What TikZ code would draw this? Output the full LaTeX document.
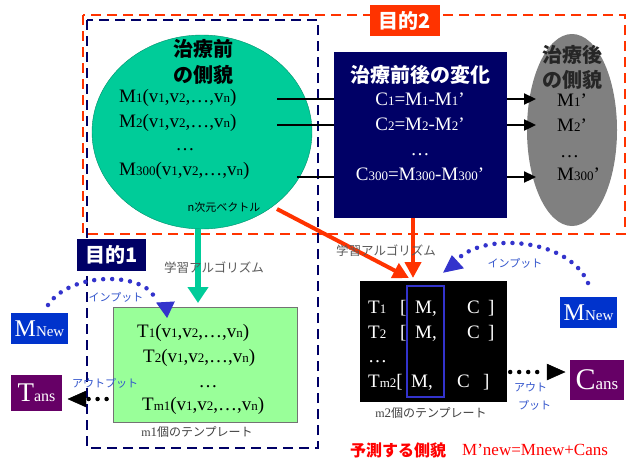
\documentclass[tikz,border=0pt]{standalone}
\usepackage{fontspec}
\setmainfont{Liberation Serif}
\newfontfamily\jp{Noto Sans CJK JP}
\usetikzlibrary{arrows.meta,shapes.geometric}
\definecolor{navyc}{HTML}{000066}
\definecolor{frameRed}{HTML}{FF3300}
\definecolor{tealc}{HTML}{00CC99}
\definecolor{grayc}{HTML}{808080}
\definecolor{lgreen}{HTML}{99FF99}
\definecolor{mblue}{HTML}{0033CC}
\definecolor{purp}{HTML}{660066}
\definecolor{dotblue}{HTML}{3333CC}
\definecolor{lblblue}{HTML}{3355CC}
\newcommand\lo[1]{{\fontsize{13}{13}\selectfont #1}}
\begin{document}
\begin{tikzpicture}[x=1pt,y=-1pt,
  ser/.style={inner sep=0pt,font=\fontsize{19}{21}\selectfont},
  jpt/.style={inner sep=0pt,font=\jp\bfseries\fontsize{20}{22}\selectfont},
  jps/.style={inner sep=0pt,font=\jp\fontsize{11}{12}\selectfont},
  redframe/.style={draw=frameRed,line width=2.6pt,dash pattern=on 10pt off 6pt},
  navyframe/.style={draw=navyc,line width=2.2pt,dash pattern=on 10pt off 6pt},
  flow/.style={draw=black,line width=2.3pt},
  flowtip/.style={flow,-{Triangle[length=12pt,width=11pt]}},
  redarrow/.style={draw=frameRed,line width=4pt,-{Triangle[length=16pt,width=16pt]}},
  tealarrow/.style={draw=tealc,line width=6pt,-{Triangle[length=16pt,width=20pt]}},
  dots/.style={line width=4.5pt,dash pattern=on 0pt off 9pt,line cap=round},
  solidbox/.style={inner sep=0pt,text=white}
]
\useasboundingbox (0,0) rectangle (634,458);
\fill[white] (0,0) rectangle (634,458);

% frames
\draw[redframe] (83,15) rectangle (625,234);
\draw[navyframe] (87,20) rectangle (318,448);

% pre-treatment ellipse
\node[ellipse,fill=tealc,draw=tealc!70!black,line width=0.4pt,minimum width=220pt,minimum height=194pt] (pre) at (202,132) {};
\node[jpt] (preT1) at (203,49) {治療前};
\node[jpt] (preT2) at (203,75) {の側貌};
\node[ser,anchor=base west] (preM1) at (119,102) {M\lo{1}(v\lo{1},v\lo{2},…,v\lo{n})};
\node[ser,anchor=base west] (preM2) at (119,127) {M\lo{2}(v\lo{1},v\lo{2},…,v\lo{n})};
\node[ser,anchor=base] (preD) at (185,150) {…};
\node[ser,anchor=base west] (preM3) at (119,175) {M\lo{300}(v\lo{1},v\lo{2},…,v\lo{n})};
\node[jps] (nvec) at (224,207) {n次元ベクトル};

% change box
\node[fill=navyc,minimum width=173pt,minimum height=166pt,inner sep=0pt] (chg) at (420.5,135) {};
\node[jpt,text=white] (chgT) at (420,75) {治療前後の変化};
\node[ser,text=white,anchor=base] (c1) at (420,105) {C\lo{1}=M\lo{1}-M\lo{1}’};
\node[ser,text=white,anchor=base] (c2) at (420,130) {C\lo{2}=M\lo{2}-M\lo{2}’};
\node[ser,text=white,anchor=base] (cd) at (420,155) {…};
\node[ser,text=white,anchor=base] (c3) at (420,180) {C\lo{300}=M\lo{300}-M\lo{300}’};

% post ellipse
\node[ellipse,fill=grayc,minimum width=90pt,minimum height=192pt,inner sep=0pt] (post) at (572,130) {};
\node[jpt,text=black!85] (postT1) at (572,55) {治療後};
\node[jpt,text=black!85] (postT2) at (572,80) {の側貌};
\node[ser,anchor=base west] (p1) at (557,106) {M\lo{1}’};
\node[ser,anchor=base west] (p2) at (557,131) {M\lo{2}’};
\node[ser,anchor=base west] (pd) at (560,157) {…};
\node[ser,anchor=base west] (p3) at (557,180) {M\lo{300}’};

% arrows pre -> change -> post
\coordinate (s1) at (277,99);
\coordinate (s2) at (277,125);
\coordinate (s3) at (297,177);
\draw[flow] (s1) -- (s1 -| chg.west);
\draw[flow] (s2) -- (s2 -| chg.west);
\draw[flow] (s3) -- (s3 -| chg.west);
\coordinate (t1) at (536,99);
\coordinate (t2) at (536,125);
\coordinate (t3) at (536,177);
\draw[flowtip] (t1 -| chg.east) -- (t1);
\draw[flowtip] (t2 -| chg.east) -- (t2);
\draw[flowtip] (t3 -| chg.east) -- (t3);

% labels of goals
\node[fill=frameRed,minimum width=70pt,minimum height=31pt,inner sep=0pt,text=white,font=\jp\bfseries\fontsize{20}{22}\selectfont] (goal2) at (405,20.5) {目的2};
\node[fill=navyc,minimum width=69pt,minimum height=32pt,inner sep=0pt,text=white,font=\jp\bfseries\fontsize{20}{22}\selectfont] (goal1) at (111.5,255) {目的1};

% template box 1
\node[fill=lgreen,draw=black!55,line width=0.8pt,minimum width=184pt,minimum height=115pt,inner sep=0pt] (tb1) at (205,364.5) {};
\node[ser,anchor=base west] (tr1) at (137,337) {T\lo{1}(v\lo{1},v\lo{2},…,v\lo{n})};
\node[ser,anchor=base west] (tr2) at (143,362) {T\lo{2}(v\lo{1},v\lo{2},…,v\lo{n})};
\node[ser,anchor=base] (trd) at (208,387) {…};
\node[ser,anchor=base west] (tr3) at (142,410) {T\lo{m1}(v\lo{1},v\lo{2},…,v\lo{n})};
\node[inner sep=0pt,font=\fontsize{12}{13}\selectfont,text=black!75] (m1lbl) at (197,432) {m\lo{1}{\jp 個のテンプレート}};

% teal arrow
\coordinate (tg0) at (198,229);
\coordinate (tg1) at (198,303);
\draw[tealarrow] (tg0) -- (tg1);
\node[jps,text=black!65,font=\jp\fontsize{12.5}{13}\selectfont] (alg1) at (214,268) {学習アルゴリズム};

% template box 2
\node[fill=black,minimum width=147pt,minimum height=121pt,inner sep=0pt] (tb2) at (433.5,341.5) {};
\draw[dotblue,line width=2pt] (407,286) rectangle (444,397);
\node[ser,text=white,anchor=base west] (b1) at (368,313) {\makebox[32pt][l]{T\lo{1}}\makebox[15pt][l]{[}\makebox[52pt][l]{M,}\makebox[21pt][l]{C}]};
\node[ser,text=white,anchor=base west] (b2) at (368,338) {\makebox[32pt][l]{T\lo{2}}\makebox[15pt][l]{[}\makebox[52pt][l]{M,}\makebox[21pt][l]{C}]};
\node[ser,text=white,anchor=base west] (bd) at (368,362) {…};
\node[ser,text=white,anchor=base west] (b3) at (368,387) {\makebox[43pt][l]{T\lo{m2}[}\makebox[46pt][l]{M,}\makebox[26pt][l]{C}]};
\node[inner sep=0pt,font=\fontsize{12}{13}\selectfont,text=black!75] (m2lbl) at (431,413) {m\lo{2}{\jp 個のテンプレート}};

% red arrows
\coordinate (rd0) at (277,209);
\coordinate (rd1) at (409,278);
\coordinate (rv) at (413,278);
\draw[redarrow] (rd0) -- (rd1);
\draw[redarrow] (rv |- chg.south) -- (rv);
\node[jps,text=black!65,font=\jp\fontsize{12.5}{13}\selectfont] (alg2) at (386,251) {学習アルゴリズム};

% input boxes
\node[fill=mblue,minimum width=57pt,minimum height=31pt,inner sep=0pt,text=white] (mnl) at (39.5,328.5) {\fontsize{24}{24}\selectfont M\fontsize{15}{15}\selectfont New};
\node[fill=mblue,minimum width=57pt,minimum height=31pt,inner sep=0pt,text=white] (mnr) at (588.5,312.5) {\fontsize{24}{24}\selectfont M\fontsize{15}{15}\selectfont New};
\node[fill=purp,minimum width=51pt,minimum height=36pt,inner sep=0pt,text=white] (tans) at (36.5,393) {\fontsize{27}{27}\selectfont T\fontsize{16}{16}\selectfont ans};
\node[fill=purp,minimum width=54pt,minimum height=40pt,inner sep=0pt,text=white] (cans) at (597,380) {\fontsize{30}{30}\selectfont C\fontsize{17}{17}\selectfont ans};

% input arcs
\coordinate (il0) at (48,305);
\coordinate (il1) at (167,317);
\draw[dotblue,dots] (il0) .. controls (70,272) and (140,272) .. (154,296);
\draw[dotblue,line width=1pt,fill=dotblue] (157,303) -- (174,302) -- (il1) -- cycle;
\node[jps,text=lblblue] (inL) at (116,297) {インプット};

\coordinate (ir0) at (588,283);
\coordinate (ir1) at (444,272);
\draw[dotblue,dots] (ir0) .. controls (570,240) and (490,232) .. (460,257);
\draw[dotblue,line width=1pt,fill=dotblue] (452,256) -- (463,268) -- (ir1) -- cycle;
\node[jps,text=lblblue] (inR) at (515,263) {インプット};

% output arrows
\coordinate (ol) at (68,399);
\draw[dots] (tb1.west |- ol) ++(-6,0) -- (85,399);
\draw[fill=black] (86,391) -- (86,407) -- (ol) -- cycle;
\node[jps,text=lblblue] (outL) at (105,383) {アウトプット};

\coordinate (orr) at (565,372);
\draw[dots] (tb2.east |- orr) ++(3,0) -- (542,372);
\draw[fill=black] (547,364) -- (547,380) -- (orr) -- cycle;
\node[jps,text=lblblue,anchor=west] (outR1) at (514,387) {アウト};
\node[jps,text=lblblue,anchor=west] (outR2) at (518,405) {プット};

% prediction
\node[inner sep=0pt,anchor=west,text=red,font=\jp\bfseries\fontsize{16}{17}\selectfont] (pred1) at (350,450) {予測する側貌};
\node[inner sep=0pt,anchor=west,text=red,font=\fontsize{17}{18}\selectfont] (pred2) at (462,450) {M’new=Mnew+Cans};
\end{tikzpicture}
\end{document}
